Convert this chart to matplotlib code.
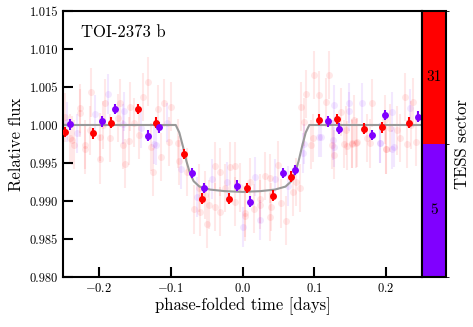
import numpy as np
import matplotlib
matplotlib.use("Agg")
import matplotlib.pyplot as plt
from matplotlib.colors import ListedColormap, BoundaryNorm
from matplotlib.cm import ScalarMappable

plt.rcParams['font.family'] = ['cmr10', 'DejaVu Serif']
plt.rcParams['mathtext.fontset'] = 'cm'
plt.rcParams['axes.formatter.use_mathtext'] = True

# ---- data ----
sectors = ["5", "31"]
sector_colors = ["#8000ff", "#ff0000"]

# binned points, sector 31 (red)
bin31_x = [-0.247, -0.208, -0.183, -0.145, -0.120, -0.082, -0.057, -0.0195, 0.0056, 0.043, 0.068,
           0.106, 0.131, 0.169, 0.194, 0.232]
bin31_y = [0.9991, 0.9989, 1.0003, 1.0021, 1.0003, 0.9962, 0.9903, 0.9903, 0.9917, 0.9907, 0.9932,
           1.0007, 1.0008, 0.9995, 0.9997, 1.0003]
# binned points, sector 5 (purple)
bin5_x = [-0.240, -0.195, -0.178, -0.132, -0.116, -0.070, -0.053, -0.007, 0.0098, 0.056, 0.0725,
          0.119, 0.135, 0.181, 0.198, 0.244]
bin5_y = [1.0001, 1.0005, 1.0021, 0.9986, 0.9997, 0.9937, 0.9917, 0.9920, 0.9899, 0.9937, 0.9941,
          1.0005, 0.9995, 0.9987, 1.0013, 1.0011]
bin_err = 0.0007

# unbinned points, sector 31
raw31_x = [-0.211, -0.131, -0.191, -0.170, -0.138, -0.109, -0.100, -0.226, -0.227, -0.118, -0.156,
           -0.151, -0.174, -0.240, -0.220, -0.184, -0.158, -0.144, -0.128, -0.102, -0.090, -0.199,
           -0.213, -0.219, -0.198, -0.163, -0.124, -0.114, -0.089, -0.166, -0.234, -0.238, -0.247,
           -0.039, -0.031, -0.018, -0.011, -0.077, -0.067, -0.060, -0.050, -0.046, -0.038, -0.032,
           -0.024, -0.010, 0.003, 0.004, 0.024, 0.025, 0.031, 0.038, 0.039, 0.053, 0.050, 0.060,
           0.070, 0.080, 0.074, 0.038, 0.010, -0.004, -0.052, -0.059, 0.096, 0.124, 0.142, 0.153,
           0.159, 0.200, 0.229, 0.127, 0.145, 0.153, 0.178, 0.200, 0.100, 0.120, 0.089, 0.106,
           0.116, 0.137, 0.155, 0.180, 0.198, 0.226, 0.237, 0.085, 0.144, 0.205, 0.215, 0.234,
           0.098, 0.158, 0.174, 0.219, 0.241, 0.081, -0.194, 0.016]
raw31_y = [1.0043, 1.0057, 1.0029, 1.0029, 1.0037, 1.0029, 1.0024, 1.0022, 1.0016, 1.0021, 1.0024,
           1.0003, 1.0009, 0.9983, 0.9974, 0.9983, 0.9979, 0.9987, 0.9971, 0.9978, 0.9976, 0.9984,
           0.9993, 0.9968, 0.9955, 0.9949, 0.9938, 0.9958, 0.9953, 0.9974, 0.9974, 0.9980, 1.0010,
           0.9946, 0.9938, 0.9945, 0.9946, 0.9938, 0.9889, 0.9917, 0.9870, 0.9895, 0.9892, 0.9886,
           0.9917, 0.9899, 0.9884, 0.9880, 0.9895, 0.9903, 0.9933, 0.9879, 0.9892, 0.9897, 0.9947,
           0.9874, 0.9912, 0.9917, 0.9925, 0.9930, 0.9925, 0.9918, 0.9908, 0.9886, 0.9974, 0.9974,
           0.9975, 0.9976, 0.9977, 0.9968, 0.9975, 0.9961, 0.9973, 0.9975, 0.9976, 0.9968, 1.0066,
           1.0066, 1.0041, 1.0039, 1.0030, 1.0017, 1.0007, 1.0029, 1.0007, 1.0037, 1.0030, 1.0004,
           0.9993, 0.9996, 0.9993, 1.0000, 0.9983, 0.9976, 0.9983, 0.9983, 0.9978, 1.0024, 1.0000,
           0.9890]
raw31_err = 0.0032

# unbinned points, sector 5
raw5_x = [-0.188, -0.165, -0.206, -0.230, -0.167, -0.142, -0.123, -0.105, -0.121, -0.042, -0.021,
          0.018, 0.045, 0.024, 0.000, -0.063, 0.063, 0.086, 0.107, 0.126, 0.191, 0.211, 0.084,
          0.208, 0.128, 0.148, 0.167, 0.148, 0.208, 0.233, 0.109, 0.191, 0.127, -0.245, -0.085]
raw5_y = [1.0041, 1.0018, 1.0014, 0.9989, 1.0001, 0.9996, 0.9975, 1.0003, 0.9974, 0.9929, 0.9925,
          0.9932, 0.9929, 0.9875, 0.9866, 0.9905, 0.9920, 0.9975, 0.9984, 0.9980, 0.9976, 0.9971,
          0.9963, 0.9968, 1.0026, 1.0029, 1.0029, 1.0018, 1.0017, 1.0022, 0.9984, 0.9976, 0.9971,
          1.0004, 0.9942]
raw5_err = 0.0026

# transit model curve
model_x = [-0.25, -0.093, -0.088, -0.083, -0.078, -0.073, -0.068, -0.060, -0.045, -0.025, 0.0,
           0.025, 0.045, 0.060, 0.068, 0.073, 0.078, 0.083, 0.088, 0.093, 0.25]
model_y = [1.0, 1.0, 0.9990, 0.9972, 0.9952, 0.9936, 0.9926, 0.9919, 0.9915, 0.9913, 0.9912,
           0.9913, 0.9915, 0.9919, 0.9926, 0.9936, 0.9952, 0.9972, 0.9990, 1.0, 1.0]

# ---- figure ----
fig = plt.figure(figsize=(4.73, 3.27), dpi=100)
ax = fig.add_axes([0.1332, 0.1529, 0.759, 0.8135])
cax = fig.add_axes([0.8922, 0.1529, 0.0507, 0.8135])

c5, c31 = sector_colors
ax.errorbar(raw31_x, raw31_y, yerr=raw31_err, fmt='o', ms=5, color=c31, alpha=0.09,
            elinewidth=1.5, mew=0, zorder=1)
ax.errorbar(raw5_x, raw5_y, yerr=raw5_err, fmt='o', ms=5, color=c5, alpha=0.09,
            elinewidth=1.5, mew=0, zorder=1)
ax.plot(model_x, model_y, color='#999999', lw=1.5, zorder=2)
ax.errorbar(bin31_x, bin31_y, yerr=bin_err, fmt='o', ms=5, color=c31, elinewidth=1.5,
            mew=0, zorder=3)
ax.errorbar(bin5_x, bin5_y, yerr=bin_err, fmt='o', ms=5, color=c5, elinewidth=1.5,
            mew=0, zorder=3)

ax.set_xlim(-0.25, 0.25)
ax.set_ylim(0.980, 1.015)
ax.set_xticks([-0.2, -0.1, 0.0, 0.1, 0.2])
ax.set_yticks(np.arange(0.980, 1.0151, 0.005))
ax.set_yticklabels([f"{v:.3f}" for v in np.arange(0.980, 1.0151, 0.005)])
ax.xaxis.set_major_formatter(matplotlib.ticker.FuncFormatter(lambda v, p: f"${v:.1f}$"))
ax.tick_params(direction='in', length=7, width=1.5, labelsize=9, top=False, right=False)
for s in ax.spines.values():
    s.set_linewidth(1.5)
ax.set_xlabel("phase-folded time [days]", fontsize=12, labelpad=2)
ax.set_ylabel("Relative flux", fontsize=12, labelpad=4)
ax.text(0.05, 0.92, "TOI-2373 b", transform=ax.transAxes, fontsize=12, va='center', ha='left')

cmap = ListedColormap(sector_colors)
norm = BoundaryNorm([0, 1, 2], cmap.N)
cb = fig.colorbar(ScalarMappable(norm=norm, cmap=cmap), cax=cax)
cb.set_ticks([])
cb.outline.set_linewidth(1.5)
for i, lab in enumerate(sectors):
    cax.text(0.5, 0.25 + 0.5 * i, lab, transform=cax.transAxes, ha='center', va='center',
             fontsize=11)
cb.set_label("TESS sector", fontsize=12, labelpad=1)

fig.savefig("out.png", dpi=100)
